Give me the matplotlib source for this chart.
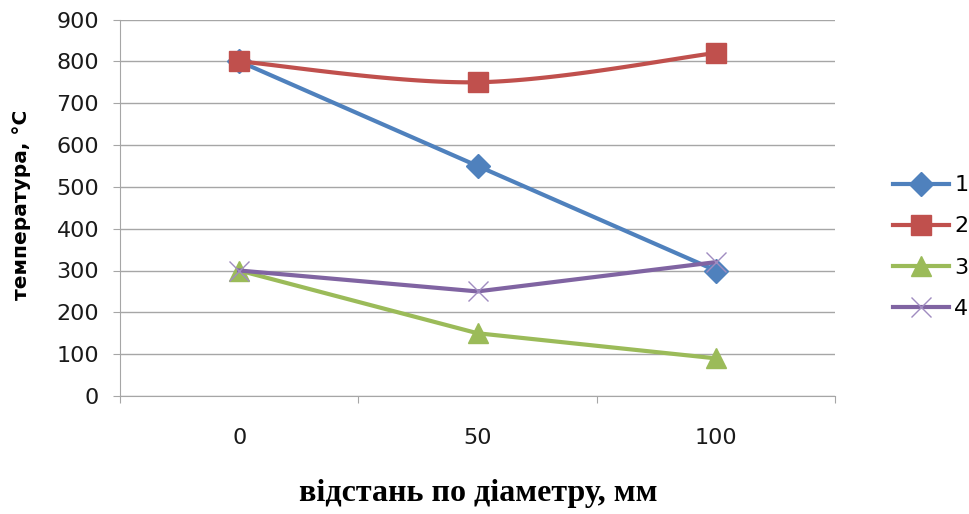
import numpy as np
import matplotlib
matplotlib.use('Agg')
import matplotlib.pyplot as plt

# відстань по діаметру, мм
distances = ['0', '50', '100']
# температура на кожній відстані, °C
series_names = ['1', '2', '3', '4']
temp_1 = [800, 550, 300]
temp_2 = [800, 750, 820]
temp_3 = [300, 150, 90]
temp_4 = [300, 250, 320]

BLUE = '#4F81BD'
RED = '#C0504D'
GREEN = '#9BBB59'
PURPLE = '#8064A2'
GRID = '#A6A6A6'


def smooth_line(xs, ys, steps=40):
    # згладжування як у Excel: кубічні Безьє з дотичними Катмулла-Рома
    pts = np.column_stack([xs, ys]).astype(float)
    ext = np.vstack([pts[0], pts, pts[-1]])
    out = []
    for i in range(len(pts) - 1):
        p0, p1, p2, p3 = ext[i], ext[i + 1], ext[i + 2], ext[i + 3]
        c1 = p1 + (p2 - p0) / 6
        c2 = p2 - (p3 - p1) / 6
        t = np.linspace(0, 1, steps)[:, None]
        seg = ((1 - t) ** 3 * p1 + 3 * (1 - t) ** 2 * t * c1
               + 3 * (1 - t) * t ** 2 * c2 + t ** 3 * p2)
        out.append(seg if i == 0 else seg[1:])
    out = np.vstack(out)
    return out[:, 0], out[:, 1]


plt.rcParams['font.family'] = ['DejaVu Sans']

fig = plt.figure(figsize=(9.69, 5.14), dpi=100)
ax = fig.add_axes([120 / 969, 1 - 396 / 514, 715 / 969, 376.5 / 514])

x = np.arange(len(distances))

ax.plot(x, temp_1, color=BLUE, lw=3, marker='D', ms=12, label=series_names[0], zorder=3)

sx, sy = smooth_line(x, temp_2)
ax.plot(sx, sy, color=RED, lw=3, zorder=3)
ax.plot(x, temp_2, ls='none', color=RED, marker='s', ms=14, zorder=3)
ax.plot([], [], color=RED, lw=3, marker='s', ms=14, label=series_names[1])

ax.plot(x, temp_3, color=GREEN, lw=3, marker='^', ms=14, label=series_names[2], zorder=3)
ax.plot(x, temp_4, color=PURPLE, lw=3, marker='x', ms=14, mew=1,
        mec='#A08CC0', label=series_names[3], zorder=3)

ax.set_xlim(-0.5, len(distances) - 0.5)
ax.set_ylim(0, 900)
ax.set_yticks(np.arange(0, 901, 100))
ax.yaxis.grid(True, color=GRID, lw=1)
ax.set_axisbelow(True)

# поділки між категоріями, підписи по центру
ax.set_xticks(np.arange(-0.5, len(distances), 1))
ax.set_xticklabels([])
ax.set_xticks(x, distances, minor=True)
ax.tick_params(axis='x', which='major', direction='out', length=5, color=GRID)
ax.tick_params(axis='x', which='minor', length=0, pad=23, labelsize=16, labelcolor='#1a1a1a')
ax.tick_params(axis='y', direction='out', length=5, color=GRID, pad=10,
               labelsize=16, labelcolor='#1a1a1a')

for side in ['top', 'right']:
    ax.spines[side].set_visible(False)
for side in ['left', 'bottom']:
    ax.spines[side].set_color(GRID)

fig.text(22 / 969, 1 - 205 / 514, 'температура, °C', rotation=90,
         ha='center', va='center', fontsize=14.5, fontweight='bold')
fig.text(478 / 969, 1 - 494 / 514, 'відстань по діаметру, мм',
         ha='center', va='center', fontsize=23, fontweight='bold',
         family='Liberation Serif')

fig.legend(loc='center left', bbox_to_anchor=(893 / 969, 1 - 247 / 514),
           frameon=False, fontsize=16, handlelength=2.5, handletextpad=0.25,
           labelspacing=0.95, borderpad=0, borderaxespad=0)

fig.savefig('out.png', dpi=100)
